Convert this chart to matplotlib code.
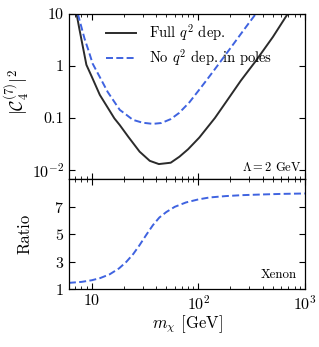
#!/usr/bin/env python3
import matplotlib as mpl

mpl.use("Agg")
import matplotlib.pyplot as plt
from matplotlib.ticker import FixedLocator, LogLocator, NullLocator, NullFormatter

# full q^2 dependence
M_FULL = [7.2, 7.6, 8.0, 8.5, 8.9, 10.0, 11.9, 14.0, 16.3, 18.3, 22.0, 28.1, 35.0, 42.6,
          55.0, 66.4, 80.0, 102, 143, 181, 250, 346, 500, 684, 740]
C_FULL = [10.0, 5.5, 3.2, 1.7, 1.05, 0.62, 0.277, 0.162, 0.098, 0.073, 0.0435, 0.0225, 0.015, 0.013,
          0.0138, 0.018, 0.025, 0.042, 0.1, 0.2, 0.52, 1.25, 3.6, 9.8, 12.5]

# no q^2 dependence in poles
M_POLE = [7.4, 7.8, 8.55, 9.3, 10.2, 12.0, 14.1, 16.0, 18.3, 21.0, 24.3, 30.0, 37.4, 45.0,
          55.0, 66.0, 82.4, 102, 120, 140, 169, 210, 250, 300, 346, 370]
C_POLE = [10.0, 6.7, 3.35, 2.0, 1.1, 0.59, 0.316, 0.215, 0.143, 0.116, 0.092, 0.081, 0.077, 0.08,
          0.095, 0.125, 0.2, 0.35, 0.54, 0.82, 1.38, 2.52, 4.1, 6.8, 10.0, 12.5]

# ratio panel (Xenon)
M_RATIO = [6.1, 8.0, 10.0, 12.0, 14.7, 18.0, 21.1, 24.5, 28.1, 32.5, 37.4, 43.0, 50.0, 60.0,
           76.6, 100, 127, 180, 259, 400, 600, 1000]
RATIO = [1.45, 1.52, 1.64, 1.8, 2.07, 2.5, 2.98, 3.55, 4.2, 4.95, 5.64, 6.2, 6.6, 6.98,
         7.3, 7.52, 7.66, 7.76, 7.83, 7.88, 7.92, 7.95]

BLACK = "#2b2b2b"
BLUE = "#3f63e0"
DASH = (0, (3.6, 1.7))

mpl.rcParams.update(
    {
        "font.family": "serif",
        "font.serif": ["cmr10", "DejaVu Serif"],
        "mathtext.fontset": "cm",
        "axes.formatter.use_mathtext": True,
        "axes.unicode_minus": False,
        "font.size": 11.5,
        "axes.linewidth": 0.9,
        "xtick.direction": "in",
        "ytick.direction": "in",
        "xtick.top": True,
        "ytick.right": True,
        "xtick.major.size": 4.5,
        "ytick.major.size": 4.5,
        "xtick.minor.size": 2.3,
        "ytick.minor.size": 2.3,
        "xtick.major.width": 0.8,
        "ytick.major.width": 0.8,
        "xtick.minor.width": 0.6,
        "legend.frameon": False,
    }
)

fig = plt.figure(figsize=(3.19, 3.47), dpi=100)
ax1 = fig.add_axes([0.216, 0.484, 0.740, 0.476])
ax2 = fig.add_axes([0.216, 0.167, 0.740, 0.317], sharex=ax1)

ax1.plot(M_FULL, C_FULL, color=BLACK, lw=1.4, label=r"Full $q^2$ dep.")
ax1.plot(M_POLE, C_POLE, color=BLUE, lw=1.4, ls=DASH, label=r"No $q^2$ dep. in poles")
ax1.set_xscale("log")
ax1.set_yscale("log")
ax1.set_xlim(6.1, 1000)
ax1.set_ylim(0.0067, 10)
ax1.yaxis.set_major_locator(FixedLocator([0.01, 0.1, 1, 10]))
ax1.set_yticklabels([r"$10^{-2}$", "0.1", "1", "10"])
ax1.yaxis.set_minor_locator(NullLocator())
ax1.tick_params(axis="x", labelbottom=False)
ax1.set_ylabel(r"$|\mathcal{C}_4^{(7)}|^2$", fontsize=13)
ax1.yaxis.set_label_coords(-0.155, 0.53)
ax1.legend(loc="upper left", bbox_to_anchor=(0.1, 1.03), fontsize=10.5, handlelength=2.1,
           handletextpad=0.9, labelspacing=0.3)
ax1.text(0.985, 0.03, r"$\Lambda = 2$ GeV", transform=ax1.transAxes, ha="right", va="bottom", fontsize=9)

ax2.plot(M_RATIO, RATIO, color=BLUE, lw=1.4, ls=DASH)
ax2.set_ylim(1, 9)
ax2.set_yticks([1, 3, 5, 7])
ax2.yaxis.set_minor_locator(NullLocator())
ax2.xaxis.set_minor_locator(LogLocator(base=10, subs=range(2, 10), numticks=20))
ax2.xaxis.set_minor_formatter(NullFormatter())
ax2.set_xticks([10, 100, 1000])
ax2.set_xticklabels(["10", r"$10^2$", r"$10^3$"])
ax2.set_xlim(6.1, 1000)
ax2.set_ylabel("Ratio", fontsize=12)
ax2.yaxis.set_label_coords(-0.155, 0.5)
ax2.set_xlabel(r"$m_\chi$ [GeV]", labelpad=1, fontsize=12)
ax2.text(0.965, 0.07, "Xenon", transform=ax2.transAxes, ha="right", va="bottom", fontsize=9.3)

fig.savefig("out.png", dpi=100)
